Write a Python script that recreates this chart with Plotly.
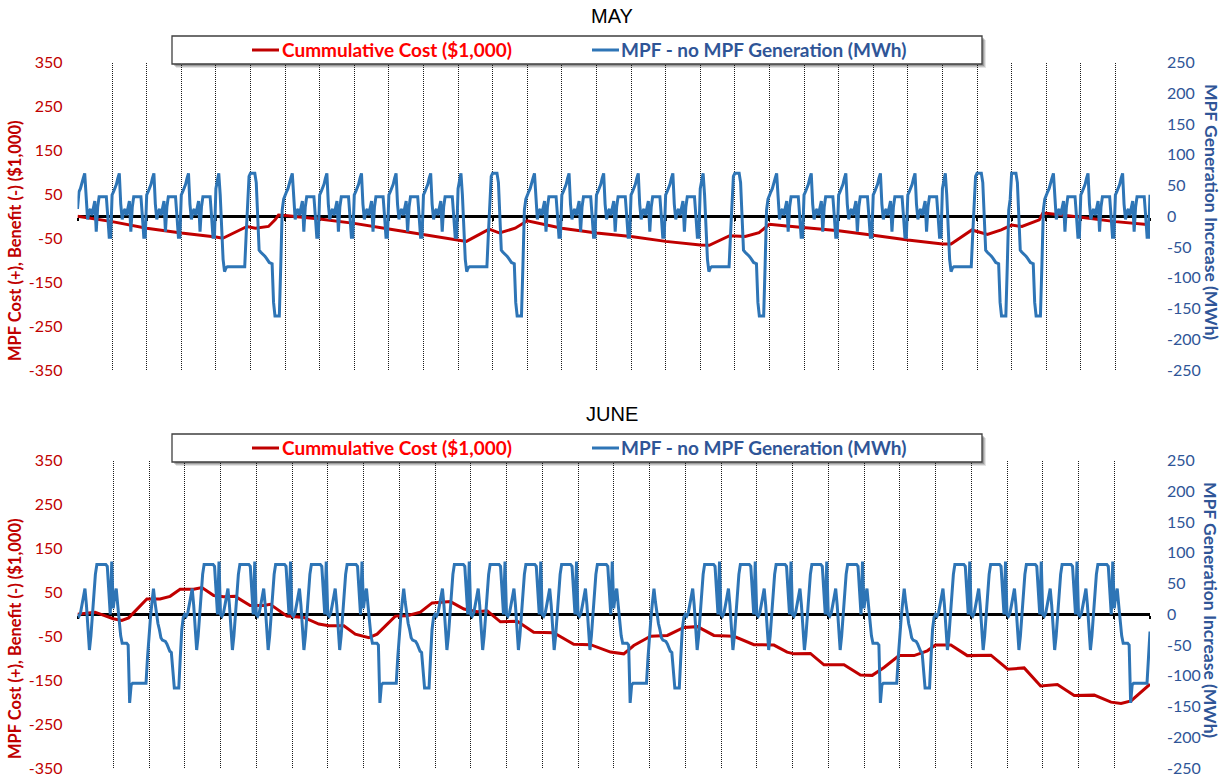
import plotly.graph_objects as go

# ---------------- DATA ----------------
# Hourly profiles (MWh) of "MPF - no MPF Generation", one value per hour
MAY_WEEKDAY = [35, 40, 45, 52, 62, 70, 20, -5, 8, 12, 2, 15, 25, -25, 15, 32, 32, 32, 32, 32, 32, 0, -34, -34]
MAY_SATURDAY = [45, 58, 70, 35, -20, -70, -90, -84, -82, -82, -82, -82, -82, -82, -82, -82, -82, -82, -82, -82, -82, -30, 20, 65]
MAY_SUNDAY = [70, 70, 70, 70, 55, -5, -55, -58, -60, -62, -65, -68, -72, -75, -76, -77, -140, -162, -162, -162, -162, -80, 10, 28]
# day types for May 2012 (W weekday, S Saturday, U Sunday/holiday)
MAY_DAY_TYPES = ["W", "W", "W", "W", "S", "U",
                 "W", "W", "W", "W", "W", "S", "U",
                 "W", "W", "W", "W", "W", "S", "U",
                 "W", "W", "W", "W", "W", "S", "U", "U",
                 "W", "W", "W"]
MAY_NEXT_TYPE = "W"
MAY_FIRST_VALUE = 12

JUNE_WEEKDAY = [0, -3, 2, 15, 28, 42, 15, -25, -58, -35, 0, 35, 65, 81, 81, 81, 81, 81, 81, 81, 78, 45, 0, 86]
JUNE_SATURDAY = [10, 30, 42, 15, -10, -35, -47, -47, -47, -47, -50, -144, -115, -112, -112, -112, -112, -112, -112, -112, -112, -112, -112, -70]
JUNE_SUNDAY = [-28, -5, 20, 42, 20, 0, -15, -25, -38, -42, -43, -44, -48, -55, -60, -62, -90, -120, -120, -120, -120, -70, -25, -5]
JUNE_DAY_TYPES = ["W", "S", "U",
                  "W", "W", "W", "W", "W", "S", "U",
                  "W", "W", "W", "W", "W", "S", "U",
                  "W", "W", "W", "W", "W", "S", "U",
                  "W", "W", "W", "W", "W", "S"]
JUNE_NEXT_TYPE = "U"
JUNE_FIRST_VALUE = 0

# Cumulative cost ($1,000) at day positions
MAY_COST_DAY = [0, 1, 2, 3, 4, 4.2, 4.9, 5.14, 5.52, 5.71, 5.81, 6.0, 7, 8, 9, 10,
                11.24, 11.9, 12.2, 12.65, 13, 14, 15, 16, 17, 18, 18.26, 18.85, 19.3, 19.7,
                20, 20.5, 21, 22, 23, 24, 25, 25.25, 25.85, 26.3, 26.7, 27, 27.3, 27.8,
                27.9, 28, 29, 30, 31]
MAY_COST = [0, -12, -27, -38, -47, -50, -23, -27, -23, -8, 3, 2, -6, -16, -29, -42,
            -57, -29, -38, -27, -10, -27, -38, -46, -57, -65, -66, -44, -46, -37,
            -18, -22, -26, -33, -43, -54, -63, -63, -31, -41, -31, -20, -23, -8,
            7, 7, -2, -12, -19]

JUNE_COST_DAY = [0, 0.49, 1.0, 1.24, 1.43, 1.66, 1.94, 2.31, 2.59, 2.87, 3.25, 3.48,
                 3.81, 4.09, 4.41, 4.83, 5.21, 5.39, 5.86, 6.33, 6.75, 7.03, 7.45, 7.77,
                 8.15, 8.38, 8.89, 9.22, 9.59, 9.92, 10.43, 10.81, 11.18, 11.46, 11.83,
                 12.30, 12.76, 13.32, 13.88, 14.35, 14.91, 15.28, 15.56, 16.03, 16.50,
                 16.96, 17.34, 17.80, 18.36, 18.92, 19.48, 19.85, 20.04, 20.5, 20.88,
                 21.44, 21.9, 22.23, 22.56, 22.98, 23.40, 23.77, 24.0, 24.43, 24.89,
                 25.55, 26.02, 26.48, 26.94, 27.41, 27.88, 28.44, 28.91, 29.19, 29.47, 30.0]
JUNE_COST = [0, 5, -10, -14, -8, 12, 35, 35, 41, 57, 57, 61,
             43, 40, 41, 20, 20, 23, -4, -7, -22, -26, -26, -45,
             -53, -45, -4, -3, 5, 26, 29, 12, 6, 8, -17,
             -16, -41, -42, -68, -69, -86, -90, -71, -50, -48,
             -30, -28, -48, -50, -69, -70, -86, -90, -89, -115,
             -115, -138, -139, -121, -94, -94, -83, -70, -70, -94,
             -93, -125, -122, -163, -160, -185, -184, -200, -203, -197, -159]

LEFT_TICKS = [-350, -250, -150, -50, 50, 150, 250, 350]
RIGHT_TICKS = [-250, -200, -150, -100, -50, 0, 50, 100, 150, 200, 250]

TITLES = ["MAY", "JUNE"]
LEGEND_COST = "Cummulative Cost ($1,000)"
LEGEND_GEN = "MPF - no MPF Generation (MWh)"
LEFT_TITLE = "MPF Cost (+), Benefit (-) ($1,000)"
RIGHT_TITLE = "MPF Generation Increase (MWh)"

# ---------------- build hourly series ----------------
def build(types, profiles, next_type, first_value):
    xs, ys = [], []
    for d, t in enumerate(types):
        for h, v in enumerate(profiles[t]):
            xs.append(d + h / 24.0)
            ys.append(v)
    ys[0] = first_value
    xs.append(len(types))
    ys.append(profiles[next_type][0])
    return xs, ys

may_x, may_y = build(MAY_DAY_TYPES, {"W": MAY_WEEKDAY, "S": MAY_SATURDAY, "U": MAY_SUNDAY},
                     MAY_NEXT_TYPE, MAY_FIRST_VALUE)
jun_x, jun_y = build(JUNE_DAY_TYPES, {"W": JUNE_WEEKDAY, "S": JUNE_SATURDAY, "U": JUNE_SUNDAY},
                     JUNE_NEXT_TYPE, JUNE_FIRST_VALUE)

W, H = 1225, 780
RED = "#C00000"
BLUE = "#2E75B6"
BLUE_TXT = "#2F5597"
FONT = "Lato"

def px(x):
    return x / W

def py(y):
    return 1 - y / H

fig = go.Figure()
fig.add_trace(go.Scatter(x=MAY_COST_DAY, y=MAY_COST, mode="lines", xaxis="x", yaxis="y",
                         line=dict(color=RED, width=3), showlegend=False))
fig.add_trace(go.Scatter(x=may_x, y=may_y, mode="lines", xaxis="x", yaxis="y2",
                         line=dict(color=BLUE, width=3), showlegend=False))
fig.add_trace(go.Scatter(x=JUNE_COST_DAY, y=JUNE_COST, mode="lines", xaxis="x2", yaxis="y3",
                         line=dict(color=RED, width=3), showlegend=False))
fig.add_trace(go.Scatter(x=jun_x, y=jun_y, mode="lines", xaxis="x2", yaxis="y4",
                         line=dict(color=BLUE, width=3), showlegend=False))

XDOM = [px(77.5), px(1150)]
OFF = 398  # vertical offset of second panel
panels = []
for i, ndays in enumerate([len(MAY_DAY_TYPES), len(JUNE_DAY_TYPES)]):
    top = 62.7 + OFF * i
    bot = 370.0 + OFF * i
    panels.append((py(bot), py(top), ndays))

layout = dict(
    width=W, height=H, template="none",
    margin=dict(l=0, r=0, t=0, b=0),
    paper_bgcolor="white", plot_bgcolor="rgba(0,0,0,0)",
    showlegend=False,
)

for i, (y0, y1, ndays) in enumerate(panels):
    xa = "xaxis" if i == 0 else "xaxis2"
    ya_l = "yaxis" if i == 0 else "yaxis3"
    ya_r = "yaxis2" if i == 0 else "yaxis4"
    xref = "x" if i == 0 else "x2"
    yl_ref = "y" if i == 0 else "y3"
    layout[xa] = dict(domain=XDOM, range=[0, ndays], anchor="free", position=(y0 + y1) / 2,
                      tick0=0, dtick=1, showticklabels=False,
                      showgrid=True, gridcolor="#1a1a1a", griddash="1px,1px", gridwidth=1,
                      showline=True, linecolor="black", linewidth=3,
                      ticks="outside", ticklen=3, tickwidth=2, tickcolor="black",
                      zeroline=False, layer="below traces", automargin=False, fixedrange=True)
    layout[ya_l] = dict(domain=[y0, y1], range=[-350, 350], anchor=xref,
                        tickvals=LEFT_TICKS, ticktext=[str(v) for v in LEFT_TICKS],
                        tickfont=dict(family=FONT, size=16, color=RED),
                        showgrid=False, zeroline=False, showline=False, ticks="",
                        ticklabelstandoff=14, automargin=False)
    layout[ya_r] = dict(domain=[y0, y1], range=[-250, 250], anchor=xref, overlaying=yl_ref,
                        side="right",
                        tickvals=RIGHT_TICKS, ticktext=[str(v) for v in RIGHT_TICKS],
                        tickfont=dict(family=FONT, size=16, color=BLUE_TXT),
                        showgrid=False, zeroline=False, showline=False, ticks="",
                        ticklabelstandoff=16, automargin=False)

shapes = []
annotations = []
for i in range(2):
    o = OFF * i
    # legend shadow + box
    for k, a in [(4, 0.10), (3, 0.15), (2, 0.2)]:
        shapes.append(dict(type="rect", xref="paper", yref="paper",
                           x0=px(172 + k), x1=px(982 + k), y0=py(64 + k + o), y1=py(36 + k + o),
                           fillcolor="rgba(0,0,0,%.2f)" % a, line=dict(width=0)))
    shapes.append(dict(type="rect", xref="paper", yref="paper",
                       x0=px(172), x1=px(982), y0=py(64 + o), y1=py(36 + o),
                       fillcolor="white", line=dict(color="#3f3f3f", width=1.3)))
    shapes.append(dict(type="line", xref="paper", yref="paper",
                       x0=px(252), x1=px(279), y0=py(50 + o), y1=py(50 + o),
                       line=dict(color=RED, width=3)))
    shapes.append(dict(type="line", xref="paper", yref="paper",
                       x0=px(592), x1=px(619), y0=py(50 + o), y1=py(50 + o),
                       line=dict(color=BLUE, width=3)))
    annotations.append(dict(text=LEGEND_COST, xref="paper", yref="paper", x=px(280), y=py(50 + o),
                            xanchor="left", yanchor="middle", showarrow=False,
                            font=dict(family=FONT, size=19, color="#FF0000", weight="bold")))
    annotations.append(dict(text=LEGEND_GEN, xref="paper", yref="paper", x=px(619), y=py(50 + o),
                            xanchor="left", yanchor="middle", showarrow=False,
                            font=dict(family=FONT, size=19, color=BLUE_TXT, weight="bold")))
    annotations.append(dict(text=TITLES[i], xref="paper", yref="paper", x=px(612), y=py(16 + o),
                            xanchor="center", yanchor="middle", showarrow=False,
                            font=dict(family="Liberation Sans", size=20, color="black")))
    annotations.append(dict(text=LEFT_TITLE, xref="paper", yref="paper", x=px(15), y=py(241 + o),
                            xanchor="center", yanchor="middle", showarrow=False, textangle=-90,
                            font=dict(family=FONT, size=16.5, color=RED, weight="bold")))
    annotations.append(dict(text=RIGHT_TITLE, xref="paper", yref="paper", x=px(1211), y=py(212 + o),
                            xanchor="center", yanchor="middle", showarrow=False, textangle=90,
                            font=dict(family=FONT, size=17.5, color=BLUE_TXT, weight="bold")))

layout["shapes"] = shapes
layout["annotations"] = annotations
fig.update_layout(**layout)
fig.write_html("out.html", config={"displayModeBar": False})
